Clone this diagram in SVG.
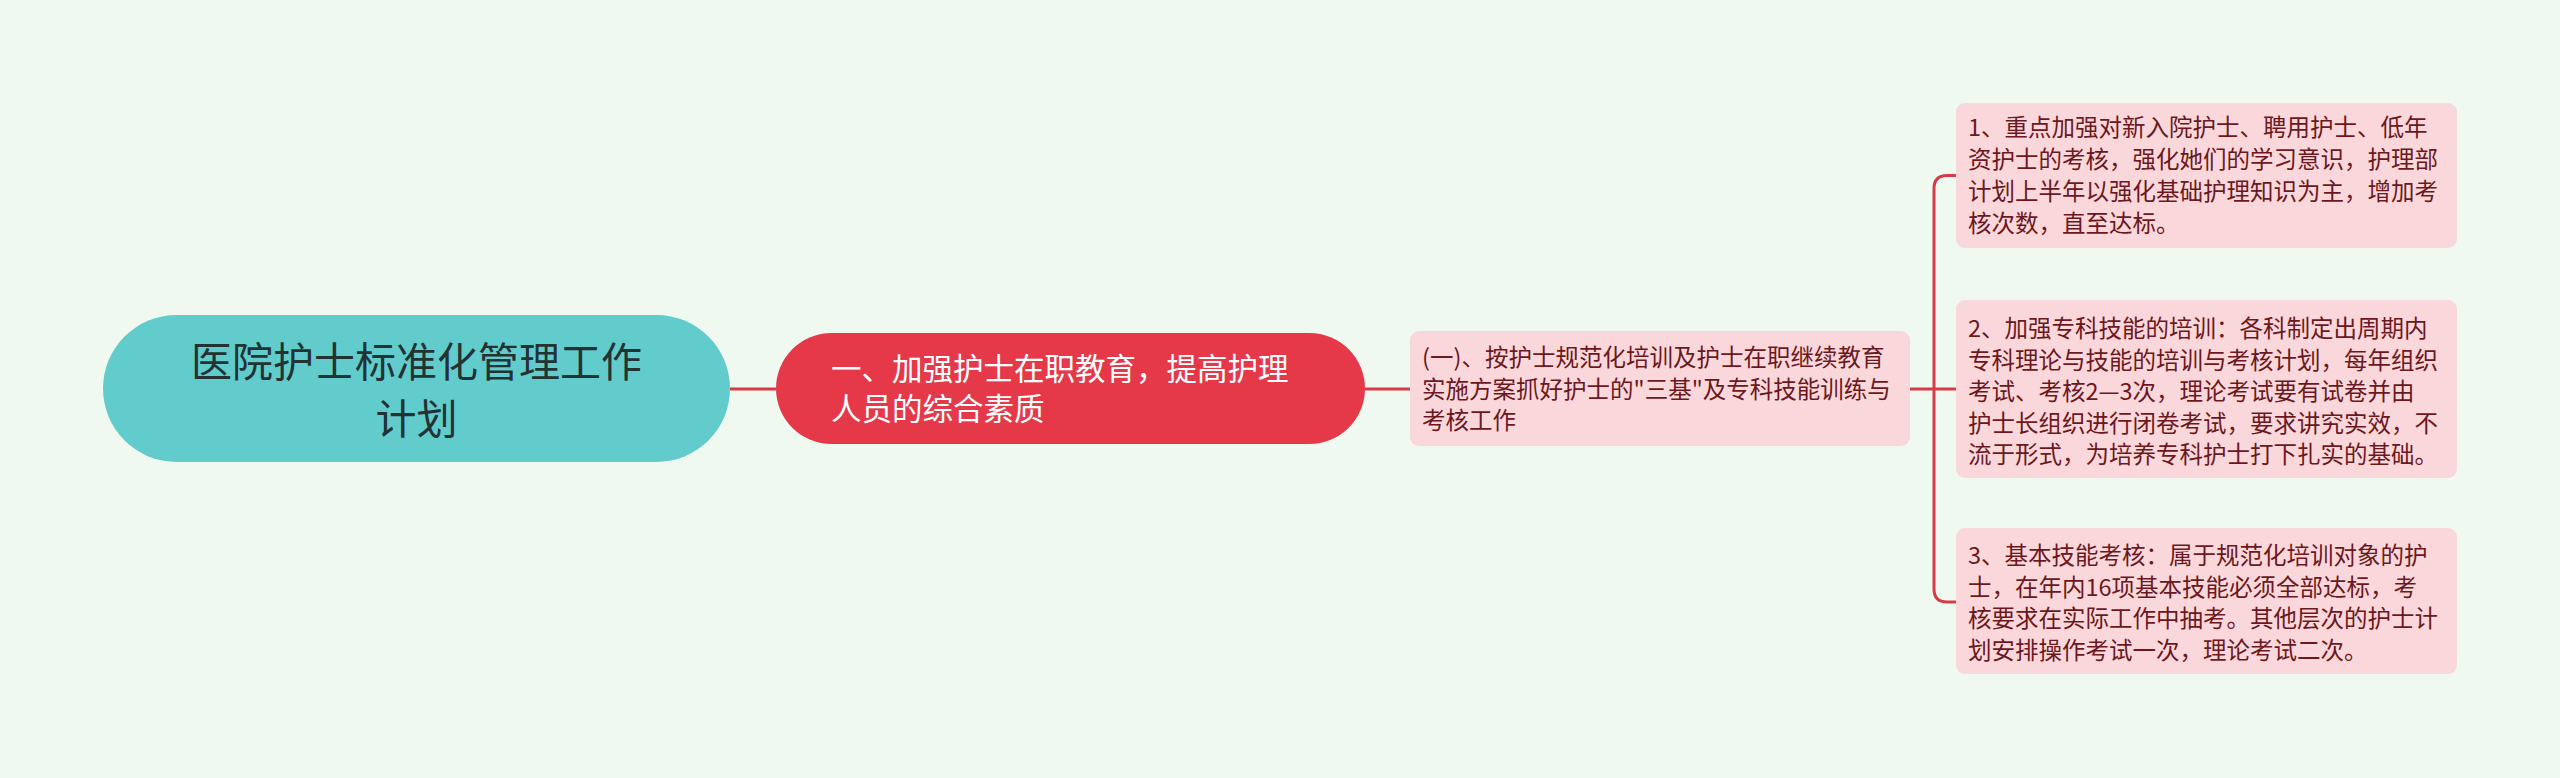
<svg xmlns="http://www.w3.org/2000/svg" width="2560" height="778" viewBox="0 0 2560 778">
<style>
.t{font-family:"Noto Sans CJK SC","Noto Sans",sans-serif;}
.root{fill:#233334;font-size:41px;}
.main{fill:#ffffff;font-size:30.5px;}
.sub{fill:#6b1820;font-size:23.5px;}
.lk{fill:none;stroke:#d83a48;stroke-width:3;}
.pink{fill:#fad7db;}
</style>
<rect width="2560" height="778" fill="#f0f9ef"/>
<g id="connectors">
<line class="lk" x1="730" y1="389" x2="776" y2="389"/>
<line class="lk" x1="1365" y1="389" x2="1410" y2="389"/>
<line class="lk" x1="1910" y1="389" x2="1956" y2="389"/>
<path class="lk" d="M1956 175.5 H1947 Q1934 175.5 1934 188.5 V589 Q1934 602 1947 602 H1956"/>
</g>
<g id="root">
<rect x="103" y="315" width="627" height="147" rx="73.5" fill="#62cbcc"/>
<text class="t root" x="416.5" y="377" text-anchor="middle">医院护士标准化管理工作</text>
<text class="t root" x="416.5" y="434" text-anchor="middle">计划</text>
</g>
<g id="main">
<rect x="776" y="333" width="589" height="111" rx="55.5" fill="#e5394a"/>
<text class="t main" x="831" y="380">一、加强护士在职教育，提高护理</text>
<text class="t main" x="831" y="420">人员的综合素质</text>
</g>
<g id="sub">
<rect class="pink" x="1410" y="331" width="500" height="115" rx="9"/>
<text class="t sub" x="1422" y="366">(一)、按护士规范化培训及护士在职继续教育</text>
<text class="t sub" x="1422" y="397.5">实施方案抓好护士的"三基"及专科技能训练与</text>
<text class="t sub" x="1422" y="429">考核工作</text>
</g>
<g id="leaf1">
<rect class="pink" x="1956" y="103" width="501" height="145" rx="9"/>
<text class="t sub" x="1968" y="136">1、重点加强对新入院护士、聘用护士、低年</text>
<text class="t sub" x="1968" y="168">资护士的考核，强化她们的学习意识，护理部</text>
<text class="t sub" x="1968" y="200">计划上半年以强化基础护理知识为主，增加考</text>
<text class="t sub" x="1968" y="232">核次数，直至达标。</text>
</g>
<g id="leaf2">
<rect class="pink" x="1956" y="300" width="501" height="178" rx="9"/>
<text class="t sub" x="1968" y="337">2、加强专科技能的培训：各科制定出周期内</text>
<text class="t sub" x="1968" y="368.5">专科理论与技能的培训与考核计划，每年组织</text>
<text class="t sub" x="1968" y="400">考试、考核2—3次，理论考试要有试卷并由</text>
<text class="t sub" x="1968" y="431.5">护士长组织进行闭卷考试，要求讲究实效，不</text>
<text class="t sub" x="1968" y="463">流于形式，为培养专科护士打下扎实的基础。</text>
</g>
<g id="leaf3">
<rect class="pink" x="1956" y="528" width="501" height="146" rx="9"/>
<text class="t sub" x="1968" y="564">3、基本技能考核：属于规范化培训对象的护</text>
<text class="t sub" x="1968" y="595.5">士，在年内16项基本技能必须全部达标，考</text>
<text class="t sub" x="1968" y="627">核要求在实际工作中抽考。其他层次的护士计</text>
<text class="t sub" x="1968" y="658.5">划安排操作考试一次，理论考试二次。</text>
</g>
</svg>
